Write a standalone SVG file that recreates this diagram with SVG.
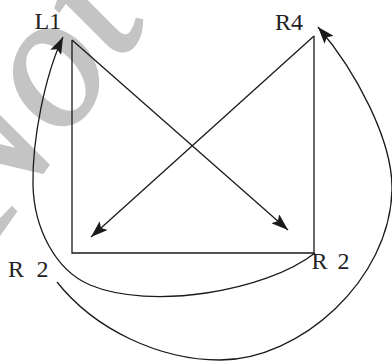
<svg xmlns="http://www.w3.org/2000/svg" width="392" height="361" viewBox="0 0 392 361">
<style>
.ln{fill:none;stroke:#1a1a1a;stroke-width:1.3}
.lbl{font-family:"Liberation Serif","Times New Roman",serif;font-size:24px;fill:#222}
.wm{font-family:"Liberation Serif","Times New Roman",serif;font-style:italic;font-size:190px;fill:#c4c4c4;stroke:#c4c4c4;stroke-width:3}
</style>
<defs>
<marker id="ah" viewBox="0 0 17 12" refX="17" refY="6" markerWidth="17" markerHeight="12" markerUnits="userSpaceOnUse" orient="auto">
<path d="M0,0 L17,6 L0,12 L3.5,6 Z" fill="#1a1a1a"/>
</marker>
</defs>
<rect width="392" height="361" fill="#fff"/>
<g id="watermark">
<text class="wm" transform="translate(-8,245) rotate(-55)">Not</text>
</g>
<g id="frame">
<path class="ln" d="M72,40 L72,253 L314,253 L314,36"/>
</g>
<g id="L1"><text class="lbl" x="34.5" y="28.5">L1</text></g>
<g id="R4"><text class="lbl" x="275" y="29.5">R4</text></g>
<g id="R2-left"><text class="lbl" x="8" y="277" textLength="40.5" lengthAdjust="spacing">R 2</text></g>
<g id="R2-right"><text class="lbl" x="311.5" y="269" textLength="38" lengthAdjust="spacing">R 2</text></g>
<g id="connectors">
<path class="ln" d="M72,40 L288,230" marker-end="url(#ah)"/>
<path class="ln" d="M314,36 L91,237" marker-end="url(#ah)"/>
<path class="ln" d="M315,253 C265,292 150,310 90,285 C55,270 34,228 33,185 C32,140 45,75 63,37" marker-end="url(#ah)"/>
<path class="ln" d="M57,282 C95,330 160,360 220,360 C300,360 390,280 392,190 C393,140 355,70 318,27" marker-end="url(#ah)"/>
</g>
</svg>
